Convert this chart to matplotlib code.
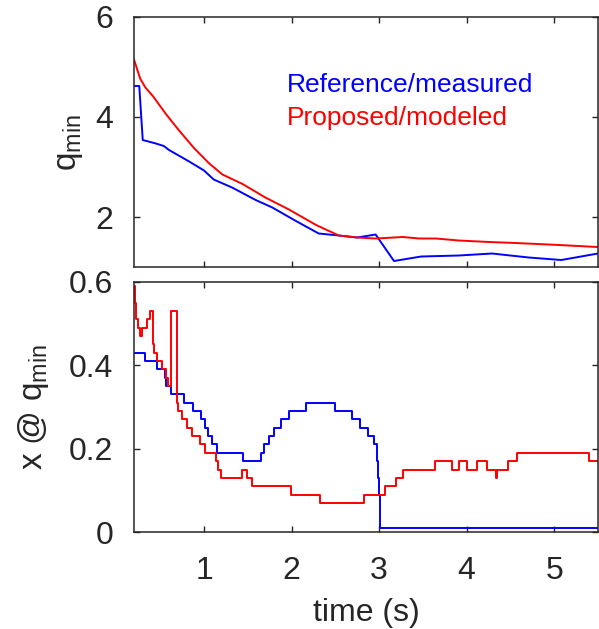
import numpy as np
import matplotlib
matplotlib.use('Agg')
import matplotlib.pyplot as plt

plt.rcParams['font.family'] = ['Liberation Sans', 'DejaVu Sans']
plt.rcParams['mathtext.default'] = 'regular'

# top panel: q_min vs time
t_ref_q = [0.2, 0.26, 0.30, 0.45, 0.54, 0.6, 0.83, 1.0, 1.11, 1.32, 1.59, 1.78, 2.05,
           2.31, 2.54, 2.75, 2.96, 3.17, 3.48, 3.91, 4.29, 4.71, 5.08, 5.5]
q_ref = [4.62, 4.62, 3.54, 3.47, 3.42, 3.34, 3.11, 2.93, 2.75, 2.59, 2.34, 2.19, 1.92,
         1.67, 1.63, 1.59, 1.65, 1.12, 1.21, 1.23, 1.27, 1.19, 1.14, 1.27]
t_mod_q = [0.2, 0.27, 0.33, 0.42, 0.56, 0.71, 0.89, 1.06, 1.21, 1.44, 1.70, 1.97, 2.28,
           2.54, 2.75, 2.96, 3.27, 3.46, 3.65, 3.91, 4.26, 4.56, 4.94, 5.5]
q_mod = [5.15, 4.77, 4.59, 4.41, 4.07, 3.74, 3.37, 3.07, 2.85, 2.66, 2.39, 2.15, 1.84,
         1.63, 1.59, 1.57, 1.60, 1.57, 1.57, 1.53, 1.50, 1.48, 1.45, 1.40]

# bottom panel: location of q_min (step data)
t_ref_x = [0.2, 0.326, 0.466, 0.554, 0.57, 0.619, 0.771, 0.874, 0.962, 1.011, 1.05, 1.088,
           1.145, 1.446, 1.648, 1.69, 1.74, 1.80, 1.876, 1.971, 2.162, 2.497, 2.695, 2.783,
           2.878, 2.943, 2.975, 2.99, 3.0, 3.008, 5.5]
x_ref = [0.43, 0.41, 0.39, 0.37, 0.35, 0.33, 0.31, 0.29, 0.27, 0.25, 0.23, 0.21,
         0.19, 0.17, 0.19, 0.21, 0.23, 0.25, 0.27, 0.29, 0.31, 0.29, 0.27, 0.25,
         0.23, 0.21, 0.17, 0.13, 0.09, 0.01, 0.01]
t_mod_x = [0.2, 0.215, 0.226, 0.245, 0.265, 0.295, 0.352, 0.383, 0.417, 0.43, 0.466, 0.516,
           0.562, 0.589, 0.619, 0.695, 0.706, 0.753, 0.802, 0.859, 0.951, 1.011, 1.133,
           1.164, 1.198, 1.43, 1.488, 1.552, 1.99, 2.33, 2.83, 3.07, 3.19, 3.27, 3.64,
           3.83, 3.91, 4.0, 4.12, 4.23, 4.33, 4.345, 4.47, 4.57, 5.40, 5.5]
x_mod = [0.59, 0.55, 0.51, 0.49, 0.47, 0.49, 0.51, 0.53, 0.45, 0.43, 0.41, 0.39,
         0.37, 0.35, 0.53, 0.31, 0.29, 0.27, 0.25, 0.23, 0.21, 0.19, 0.17,
         0.15, 0.13, 0.15, 0.13, 0.11, 0.09, 0.07, 0.09, 0.11, 0.13, 0.15, 0.17,
         0.15, 0.17, 0.15, 0.17, 0.15, 0.13, 0.15, 0.17, 0.19, 0.17, 0.17]

fs = 23
dark = '#262626'

fig = plt.figure(figsize=(5.99, 6.29), dpi=100)
ax1 = fig.add_axes([0.2237, 0.5755, 0.7746, 0.3975])
ax2 = fig.add_axes([0.2237, 0.1542, 0.7746, 0.3975])

ax1.plot(t_ref_q, q_ref, color='#0000ff', lw=1.4)
ax1.plot(t_mod_q, q_mod, color='#ff0000', lw=1.4)
ax1.text(0.329, 0.70, 'Reference/measured', color='#0000ff', fontsize=19,
         transform=ax1.transAxes)
ax1.text(0.329, 0.568, 'Proposed/modeled', color='#ff0000', fontsize=19,
         transform=ax1.transAxes)
ax1.set_ylim(1, 6)
ax1.set_yticks([2, 4, 6])
ax1.set_yticklabels(['2', '4', '6'])
ax1.set_ylabel('q$_{min}$', fontsize=24, color=dark)
ax1.yaxis.set_label_coords(-0.105, 0.5)

ax2.plot(t_ref_x, x_ref, color='#0000ff', lw=1.4, drawstyle='steps-post')
ax2.plot(t_mod_x, x_mod, color='#ff0000', lw=1.4, drawstyle='steps-post')
ax2.set_ylim(0, 0.6)
ax2.set_yticks([0, 0.2, 0.4, 0.6])
ax2.set_yticklabels(['0', '0.2', '0.4', '0.6'])
ax2.set_ylabel('x @ q$_{min}$', fontsize=24, color=dark)
ax2.yaxis.set_label_coords(-0.178, 0.5)
ax2.set_xlabel('time (s)', fontsize=fs, color=dark, labelpad=9)

for ax in (ax1, ax2):
    ax.set_xlim(0.2, 5.5)
    ax.set_xticks([1, 2, 3, 4, 5])
    ax.tick_params(direction='in', top=True, right=True, length=4.5, width=1,
                   colors=dark, labelsize=fs)
    ax.tick_params(axis='y', pad=15)
    ax.tick_params(axis='x', pad=17)
    for s in ax.spines.values():
        s.set_color(dark)
        s.set_linewidth(1.1)
ax1.tick_params(labelbottom=False)

plt.savefig('out.png', dpi=100)
